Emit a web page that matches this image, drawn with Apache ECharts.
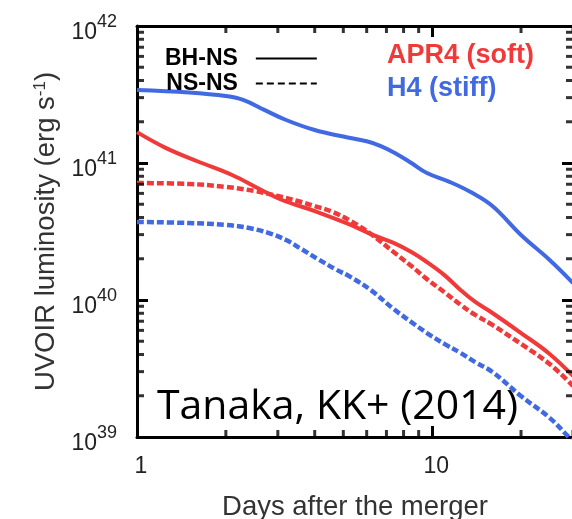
<!DOCTYPE html>
<html>
<head>
<meta charset="utf-8">
<script src="https://cdn.jsdelivr.net/npm/echarts@6/dist/echarts.min.js"></script>
<style>
  html, body { margin: 0; padding: 0; background: #fff; }
  #chart { width: 572px; height: 519px; }
</style>
</head>
<body>
<div id="chart"></div>
<script>
// Kilonova bolometric light curves: days after merger vs UVOIR luminosity (erg/s)
const apr4BhnsDays = [1, 1.25, 1.6, 2.1, 2.6, 3.1, 4.0, 5.2, 6.2, 7.4, 8.5, 9.6, 11, 12.5, 14, 16, 20, 25, 30];
const apr4BhnsLum  = [1.68e41, 1.29e41, 1.03e41, 8.17e40, 6.46e40, 5.37e40, 4.46e40, 3.59e40, 3.03e40, 2.61e40, 2.24e40, 1.89e40, 1.52e40, 1.18e40, 9.67e39, 8.04e39, 5.74e39, 4.04e39, 2.79e39];

const apr4NsnsDays = [1, 1.5, 2.0, 2.5, 3.0, 3.5, 4.0, 4.6, 5.3, 6.2, 7.4, 8.5, 9.6, 11, 12.5, 14, 16, 20, 25, 30];
const apr4NsnsLum  = [7.14e40, 7.03e40, 6.69e40, 6.25e40, 5.74e40, 5.28e40, 4.85e40, 4.39e40, 3.77e40, 3.03e40, 2.24e40, 1.77e40, 1.42e40, 1.14e40, 9.2e39, 7.78e39, 6.58e39, 4.78e39, 3.41e39, 2.36e39];

const h4BhnsDays = [1, 1.5, 2.0, 2.3, 2.7, 3.2, 4.0, 5.0, 6.0, 6.7, 7.5, 8.5, 9.6, 11.5, 13.5, 16, 20, 25, 30];
const h4BhnsLum  = [3.41e41, 3.27e41, 3.08e41, 2.88e41, 2.44e41, 2.06e41, 1.74e41, 1.56e41, 1.44e41, 1.33e41, 1.18e41, 1.00e41, 8.45e40, 7.26e40, 6.14e40, 4.85e40, 2.98e40, 1.96e40, 1.33e40];

const h4NsnsDays = [1, 1.5, 2.0, 2.4, 2.8, 3.2, 3.6, 4.1, 4.7, 5.3, 6.2, 7.4, 8.5, 9.6, 11, 12.5, 14, 16, 20, 25, 29, 30];
const h4NsnsLum  = [3.71e40, 3.65e40, 3.53e40, 3.35e40, 3.08e40, 2.74e40, 2.36e40, 1.99e40, 1.68e40, 1.47e40, 1.18e40, 8.6e39, 6.9e39, 5.74e39, 4.78e39, 4.1e39, 3.52e39, 2.98e39, 1.99e39, 1.38e39, 1.0e39, 9.3e38];

// axis ranges and minor tick positions (2..9 within each decade)
const xRange = [1, 30];
const yRange = [1e39, 1e42];
const xMinorTicks = [2, 3, 4, 5, 6, 7, 8, 9, 20, 30];
const yMinorTicks = [2e39, 3e39, 4e39, 5e39, 6e39, 7e39, 8e39, 9e39,
                     2e40, 3e40, 4e40, 5e40, 6e40, 7e40, 8e40, 9e40,
                     2e41, 3e41, 4e41, 5e41, 6e41, 7e41, 8e41, 9e41];

const RED = '#f03a3a';
const BLUE = '#4169e1';
const zip = (xs, ys) => xs.map((x, i) => [x, ys[i]]);
const lg = v => Math.log10(v);

const chart = echarts.init(document.getElementById('chart'), null, { renderer: 'canvas' });

const frameLine = { show: true, lineStyle: { color: '#000', width: 3 } };
const majorTick = { show: true, inside: true, length: 11, lineStyle: { color: '#000', width: 3 } };

function logAxis(pos, range) {
  return {
    type: 'log', logBase: 10, min: range[0], max: range[1], position: pos,
    axisLine: frameLine, axisTick: majorTick,
    splitLine: { show: false }, axisLabel: { show: false }
  };
}

const xBottom = logAxis('bottom', xRange);
xBottom.axisLabel = {
  show: true, margin: 18, color: '#222', fontSize: 23, fontFamily: 'Liberation Sans', padding: [0, 0, 0, 8],
  formatter: v => (Math.abs(lg(v) - Math.round(lg(v))) < 1e-6 ? String(Math.round(v)) : '')
};
xBottom.name = 'Days after the merger';
xBottom.nameLocation = 'middle';
xBottom.nameGap = 56;
xBottom.nameTextStyle = { color: '#333', fontSize: 27.5, fontFamily: 'Liberation Sans' };

const yLeft = logAxis('left', yRange);
yLeft.axisLabel = {
  show: true, margin: 20, color: '#222', fontFamily: 'Liberation Sans',
  formatter: v => '{b|10}{s|' + Math.round(lg(v)) + '}',
  rich: {
    b: { fontSize: 23, fontFamily: 'Liberation Sans', color: '#222', padding: [14, 0, 0, 0] },
    s: { fontSize: 18, fontFamily: 'Liberation Sans', color: '#222', padding: [0, 0, 8, 0] }
  }
};
yLeft.name = '{t|UVOIR luminosity (erg s}{u|-1}{t|)}';
yLeft.nameLocation = 'middle';
yLeft.nameGap = 64;
yLeft.nameTextStyle = {
  color: '#333', fontFamily: 'Liberation Sans',
  rich: {
    t: { fontSize: 27.5, fontFamily: 'Liberation Sans', color: '#333' },
    u: { fontSize: 17, fontFamily: 'Liberation Sans', color: '#333', padding: [0, 0, 12, 0] }
  }
};

const curve = (name, days, lum, color, dashed) => ({
  name, type: 'line', data: zip(days, lum), symbol: 'none', smooth: 0.4,
  lineStyle: dashed ? { color, width: 4.5, type: [7, 3] } : { color, width: 4 }
});

// short inward minor tick marks placed on the frame edges through the axes
const tickMarks = (name, data, size, offset) => ({
  name, type: 'scatter', data, symbol: 'rect', symbolSize: size, symbolOffset: offset,
  itemStyle: { color: '#000' }, silent: true, clip: false, z: 5
});

const option = {
  animation: false,
  backgroundColor: '#fff',
  grid: { left: 137, top: 26, width: 436, height: 411, containLabel: false, outerBoundsMode: 'none' },
  legend: {
    left: 160, top: 41, orient: 'vertical', align: 'right', selectedMode: false,
    itemWidth: 61, itemHeight: 14, itemGap: 0,
    itemStyle: { opacity: 0 },
    data: ['BH-NS', 'NS-NS'],
    textStyle: { color: '#000', fontWeight: 'bold', fontSize: 23, fontFamily: 'Liberation Sans', lineHeight: 25, padding: [0, 13, 0, 0] }
  },
  xAxis: [xBottom, logAxis('top', xRange)],
  yAxis: [yLeft, logAxis('right', yRange)],
  graphic: [
    { type: 'text', left: 387, top: 42, style: { text: 'APR4 (soft)', fill: RED, font: 'bold 27px "Liberation Sans"' } },
    { type: 'text', left: 387, top: 75, style: { text: 'H4 (stiff)', fill: BLUE, font: 'bold 27px "Liberation Sans"' } },
    { type: 'text', left: 157, top: 387, z: 100, style: { text: 'Tanaka, KK+ (2014)', fill: '#000', font: '41px "Open Sans"' } }
  ],
  series: [
    { name: 'BH-NS', type: 'line', data: [], symbol: 'none', itemStyle: { color: 'rgba(0,0,0,0)' }, lineStyle: { color: '#000', width: 3.5, type: 'solid' } },
    { name: 'NS-NS', type: 'line', data: [], symbol: 'none', itemStyle: { color: 'rgba(0,0,0,0)' }, lineStyle: { color: '#000', width: 3.5, type: [7, 4] } },
    curve('H4 NS-NS', h4NsnsDays, h4NsnsLum, BLUE, true),
    curve('APR4 NS-NS', apr4NsnsDays, apr4NsnsLum, RED, true),
    curve('H4 BH-NS', h4BhnsDays, h4BhnsLum, BLUE, false),
    curve('APR4 BH-NS', apr4BhnsDays, apr4BhnsLum, RED, false),
    tickMarks('left minor', yMinorTicks.map(v => [xRange[0], v]), [7, 3], [3.5, 0]),
    tickMarks('right minor', yMinorTicks.map(v => [xRange[1], v]), [7, 3], [-3.5, 0]),
    tickMarks('bottom minor', xMinorTicks.map(v => [v, yRange[0]]), [3, 7], [0, -3.5]),
    tickMarks('top minor', xMinorTicks.map(v => [v, yRange[1]]), [3, 7], [0, 3.5])
  ]
};
chart.setOption(option);
</script>
</body>
</html>
